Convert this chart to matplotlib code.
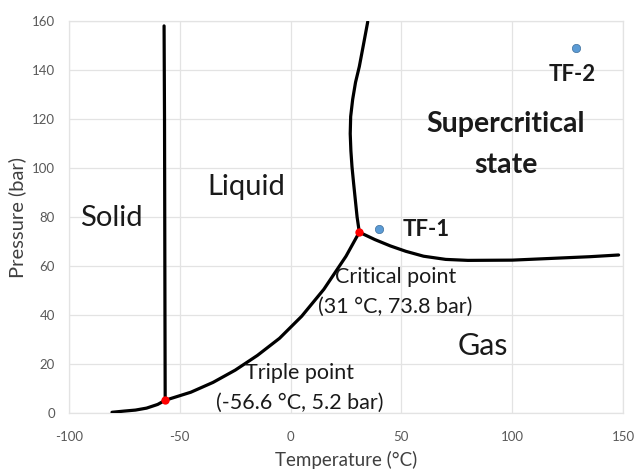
import matplotlib
matplotlib.use("Agg")
import matplotlib.pyplot as plt

plt.rcParams['font.family'] = ['Lato', 'DejaVu Sans']
plt.rcParams['axes.unicode_minus'] = False

# Phase boundaries (Temperature °C, Pressure bar)
sub_T = [-80.6, -75, -70, -65, -60, -56.6]
sub_P = [0.3, 0.8, 1.2, 2.0, 3.5, 5.2]

melt_T = [-56.6, -56.7, -56.9, -57.1]
melt_P = [5.2, 40, 120, 158]

vap_T = [-56.6, -45, -35, -25, -15, -5, 5, 15, 25, 31]
vap_P = [5.2, 8.5, 12.5, 17.5, 23.5, 30.5, 39.5, 50.5, 64, 73.8]

sc_T = [31, 30.0, 29.2, 28.4, 27.7, 27.2, 26.9, 27.1, 28.0, 29.3, 31.0, 32.8, 34.8]
sc_P = [73.8, 80, 87, 94, 100.5, 107, 114, 121, 128, 135, 141.4, 150, 159.7]

gas_T = [31, 38, 45, 52, 60, 70, 80, 100, 120, 135, 148]
gas_P = [73.8, 70.8, 68.2, 66.0, 64.0, 62.7, 62.3, 62.4, 63.2, 63.8, 64.5]

special_T = [-56.6, 31]
special_P = [5.2, 73.8]

tf_names = ["TF-1", "TF-2"]
tf_T = [40, 129]
tf_P = [75, 149]

fig = plt.figure(figsize=(6.36, 4.71), dpi=100)
ax = fig.add_axes([0.1085, 0.1231, 0.8711, 0.8323])

lc = 'black'
lw = 2.3
for T, P in [(sub_T, sub_P), (melt_T, melt_P), (vap_T, vap_P), (sc_T, sc_P), (gas_T, gas_P)]:
    ax.plot(T, P, color=lc, lw=lw, solid_capstyle='round', solid_joinstyle='round', zorder=3)

ax.scatter(special_T, special_P, s=36, color='#ff0000', zorder=4, linewidths=0)
ax.scatter(tf_T, tf_P, s=36, color='#5b9bd5', zorder=4, edgecolors='#41719c', linewidths=0.5)

ax.set_xlim(-100, 150)
ax.set_ylim(0, 160)
ax.set_xticks([-100, -50, 0, 50, 100, 150])
ax.set_yticks(range(0, 161, 20))
ax.grid(True, color='#e3e3e3', lw=0.9)
ax.set_axisbelow(True)
for s in ax.spines.values():
    s.set_color('#e3e3e3')
    s.set_linewidth(0.9)
ax.tick_params(length=0, colors='#595959', labelsize=9.5)
ax.tick_params(axis='x', pad=13)
ax.tick_params(axis='y', pad=10)
ax.set_xlabel('Temperature (°C)', fontsize=13.5, color='#404040', labelpad=6)
ax.set_ylabel('Pressure (bar)', fontsize=14.5, color='#404040', labelpad=4)

tc = '#1a1a1a'
ax.text(-81, 79.6, 'Solid', fontsize=21, color=tc, ha='center', va='center')
ax.text(-20, 92.2, 'Liquid', fontsize=21, color=tc, ha='center', va='center')
ax.text(97, 118, 'Supercritical', fontsize=20.5, fontweight='bold', color=tc, ha='center', va='center')
ax.text(97, 101.2, 'state', fontsize=20.5, fontweight='bold', color=tc, ha='center', va='center')
ax.text(50.7, 74.7, tf_names[0], fontsize=16, fontweight='bold', color=tc, ha='left', va='center')
ax.text(127, 138, tf_names[1], fontsize=16, fontweight='bold', color=tc, ha='center', va='center')
ax.text(47.5, 55.5, 'Critical point', fontsize=15.5, color=tc, ha='center', va='center')
ax.text(47.2, 43.3, '(31 °C, 73.8 bar)', fontsize=15.5, color=tc, ha='center', va='center')
ax.text(86.8, 27.3, 'Gas', fontsize=22, color=tc, ha='center', va='center')
ax.text(4.2, 16.3, 'Triple point', fontsize=15.5, color=tc, ha='center', va='center')
ax.text(4.2, 4.2, '(-56.6 °C, 5.2 bar)', fontsize=15.5, color=tc, ha='center', va='center')

fig.savefig('out.png', dpi=100)
